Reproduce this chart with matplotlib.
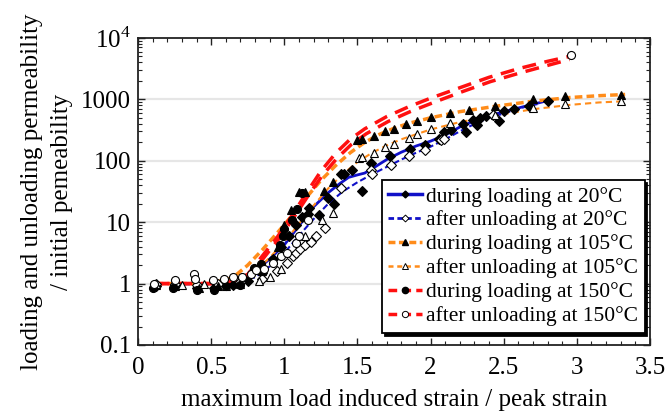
import matplotlib
matplotlib.use("Agg")
import matplotlib.pyplot as plt
from matplotlib.ticker import FixedLocator, FixedFormatter, LogLocator, MultipleLocator, NullFormatter
from matplotlib.lines import Line2D
import numpy as np

plt.rcParams['font.family'] = ['Liberation Serif', 'DejaVu Serif']
plt.rcParams['mathtext.fontset'] = 'custom'
plt.rcParams['mathtext.rm'] = 'Liberation Serif'

# ---------------- data ----------------
# 20 C, during loading (black diamonds)
x20L = [0.12, 0.25, 0.40, 0.52, 0.65, 0.75, 0.85, 0.92, 0.98, 1.03, 1.08, 1.12, 1.17, 1.16, 1.24,
        1.30, 1.34, 1.39, 1.41, 1.46, 1.53, 1.59, 1.72, 1.86, 1.96, 2.06, 2.09, 2.14, 2.22, 2.24,
        2.29, 2.32, 2.34, 2.38, 2.47, 2.50, 2.57, 2.67, 2.80]
y20L = [0.9, 0.95, 0.85, 0.85, 0.95, 1.1, 1.5, 2.5, 4.0, 6.0, 9.0, 12, 17, 13.5, 13,
        25, 20, 60, 62, 72, 32, 93, 120, 155, 180, 230, 295, 320, 390, 295,
        470, 380, 500, 540, 450, 650, 690, 780, 950]
# 20 C, after unloading (white diamonds)
x20U = [0.12, 0.25, 0.40, 0.55, 0.70, 0.85, 0.95, 1.02, 1.06, 1.08, 1.11, 1.14, 1.18, 1.22, 1.28,
        1.39, 1.59, 1.60, 1.73, 1.85, 1.96, 2.07, 2.09, 2.43]
y20U = [1.0, 1.0, 0.95, 1.0, 1.05, 1.2, 1.6, 2.2, 2.8, 3.1, 3.7, 4.2, 4.8, 6.0, 8.0,
        36, 72, 60, 85, 120, 150, 220, 225, 550]
# 105 C, during loading (black triangles)
x105L = [0.12, 0.25, 0.42, 0.55, 0.70, 0.85, 0.955, 1.00, 1.045, 1.10, 1.14, 1.27, 1.33, 1.50,
         1.53, 1.61, 1.69, 1.75, 1.83, 1.91, 2.00, 2.13, 2.26, 2.44, 2.70, 2.92, 3.30]
y105L = [0.95, 0.9, 0.85, 0.9, 1.0, 1.6, 4.0, 9.0, 15.5, 31, 31, 32, 45, 220,
         230, 250, 300, 330, 400, 450, 510, 600, 680, 780, 1020, 1120, 1200]
# 105 C, after unloading (white triangles)
x105U = [0.12, 0.30, 0.45, 0.60, 0.83, 0.90, 0.98, 1.14, 1.26, 1.33, 1.51, 1.53, 1.61, 1.69,
         1.75, 1.85, 1.91, 2.00, 2.13, 2.44, 2.70, 2.92, 3.30]
y105U = [1.0, 0.95, 1.0, 0.9, 1.1, 1.3, 1.7, 6.0, 10.7, 14, 110, 115, 132, 166,
         186, 234, 270, 330, 410, 560, 720, 830, 930]
# 150 C, during loading (black circles)
x150L = [0.10, 0.24, 0.40, 0.52, 0.60, 0.70, 0.79, 0.84, 0.97, 0.99, 1.00, 1.056, 1.09, 1.12]
y150L = [0.85, 0.85, 0.8, 0.8, 0.9, 0.95, 1.8, 2.1, 4.3, 6.0, 7.8, 11, 16.6, 30]
# 150 C, after unloading (white circles)
x150U = [0.11, 0.25, 0.38, 0.39, 0.51, 0.59, 0.65, 0.71, 0.77, 0.81, 0.86, 0.92, 0.98, 1.02,
         1.08, 1.10, 1.16, 2.96]
y150U = [1.0, 1.15, 1.45, 1.2, 1.16, 1.2, 1.28, 1.28, 1.45, 1.64, 1.75, 2.2, 2.8, 3.2,
         4.5, 6.0, 11, 5300]

# fitted curves (x, and log10 of the permeability ratio)
cx20L = [0.12, 0.50, 0.70, 0.80, 0.90, 1.00, 1.10, 1.20, 1.30, 1.38, 1.44, 1.50, 1.55, 1.62,
         1.70, 1.80, 1.90, 2.00, 2.10, 2.20, 2.30, 2.40, 2.50, 2.60, 2.70, 2.80]
clog20L = [0.0, 0.0, 0.02, 0.20, 0.40, 0.63, 0.94, 1.25, 1.48, 1.63, 1.73, 1.77, 1.80, 1.90,
           2.02, 2.14, 2.24, 2.32, 2.42, 2.55, 2.65, 2.73, 2.80, 2.86, 2.92, 2.98]
cx20U = [0.12, 0.50, 0.80, 0.90, 1.00, 1.10, 1.20, 1.30, 1.40, 1.50, 1.60, 1.70, 1.80, 1.90,
         2.00, 2.10, 2.20, 2.30, 2.40, 2.50, 2.60, 2.70, 2.75]
clog20U = [0.0, -0.02, 0.10, 0.28, 0.50, 0.78, 1.05, 1.30, 1.50, 1.65, 1.78, 1.90, 2.02, 2.13,
           2.23, 2.35, 2.48, 2.60, 2.70, 2.77, 2.85, 2.91, 2.93]
cx105L = [0.12, 0.50, 0.65, 0.75, 0.85, 0.95, 1.05, 1.15, 1.25, 1.35, 1.45, 1.55, 1.65, 1.75,
          1.85, 2.00, 2.20, 2.45, 2.70, 2.95, 3.15, 3.33]
clog105L = [0.0, 0.0, 0.10, 0.30, 0.55, 0.82, 1.10, 1.40, 1.68, 1.92, 2.13, 2.30, 2.43, 2.53,
            2.61, 2.70, 2.80, 2.89, 2.97, 3.03, 3.06, 3.08]
cx105U = [0.12, 0.50, 0.70, 0.80, 0.90, 1.00, 1.10, 1.20, 1.30, 1.40, 1.50, 1.60, 1.70, 1.80,
          1.90, 2.00, 2.20, 2.45, 2.70, 2.95, 3.15, 3.33]
clog105U = [0.0, 0.0, 0.05, 0.20, 0.42, 0.68, 0.97, 1.27, 1.55, 1.78, 1.98, 2.13, 2.25, 2.35,
            2.43, 2.51, 2.63, 2.74, 2.84, 2.91, 2.95, 2.97]
cx150L = [0.12, 0.50, 0.65, 0.75, 0.85, 0.95, 1.05, 1.15, 1.25, 1.35, 1.45, 1.55, 1.70, 1.85,
          2.00, 2.20, 2.40, 2.60, 2.80, 2.95]
clog150L = [0.0, 0.0, 0.04, 0.15, 0.45, 0.75, 1.10, 1.47, 1.83, 2.12, 2.35, 2.52, 2.72, 2.88,
            3.02, 3.19, 3.36, 3.50, 3.62, 3.70]
cx150U = [0.12, 0.50, 0.66, 0.76, 0.86, 0.96, 1.06, 1.16, 1.26, 1.36, 1.46, 1.56, 1.71, 1.86,
          2.01, 2.21, 2.41, 2.61, 2.81, 2.95]
clog150U = [0.0, 0.0, 0.03, 0.13, 0.42, 0.72, 1.06, 1.42, 1.76, 2.04, 2.27, 2.44, 2.64, 2.80,
            2.94, 3.12, 3.29, 3.43, 3.56, 3.65]

labels = ["during loading at 20°C", "after unloading at 20°C",
          "during loading at 105°C", "after unloading at 105°C",
          "during loading at 150°C", "after unloading at 150°C"]
yticks = [0.1, 1, 10, 100, 1000, 10000]
yticklabels = ["0.1", "1", "10", "100", "1000", "10$^4$"]
xticks = [0, 0.5, 1, 1.5, 2, 2.5, 3, 3.5]
xticklabels = ["0", "0.5", "1", "1.5", "2", "2.5", "3", "3.5"]

# ---------------- figure ----------------
fig = plt.figure(figsize=(6.66, 4.17), dpi=100)
ax = fig.add_axes([0.2072, 0.1727, 0.7688, 0.7362])

blue = '#1010c8'
orange = '#ff8c1a'
red = '#ff1010'
ms = 5.5

def p(v):
    return np.power(10.0, np.asarray(v))

# curves
ax.plot(cx20L, p(clog20L), color=blue, lw=2.0, ls='-', zorder=3)
ax.plot(cx20U, p(clog20U), color=blue, lw=1.5, ls=(0, (3, 1.5)), zorder=3)
ax.plot(cx105L, p(clog105L), color=orange, lw=2.5, ls=(0, (2.2, 1.2)), zorder=3)
ax.plot(cx105U, p(clog105U), color=orange, lw=1.5, ls=(0, (3, 2)), zorder=3)
ax.plot(cx150L, p(clog150L), color=red, lw=2.5, ls=(0, (4, 2.5)), zorder=3)
ax.plot(cx150U, p(clog150U), color=red, lw=2.5, ls=(0, (4, 2.5)), zorder=3)

# markers
kw = dict(ls='none', mec='black', mew=0.8, zorder=4)
ax.plot(x20L, y20L, marker='D', ms=ms * 0.85, mfc='black', **kw)
ax.plot(x20U, y20U, marker='D', ms=ms * 0.85, mfc='white', **kw)
ax.plot(x105L, y105L, marker='^', ms=ms * 1.1, mfc='black', **kw)
ax.plot(x105U, y105U, marker='^', ms=ms * 1.1, mfc='white', **kw)
ax.plot(x150L, y150L, marker='o', ms=ms * 1.05, mfc='black', **kw)
ax.plot(x150U, y150U, marker='o', ms=ms * 1.05, mfc='white', **kw)

ax.set_yscale('log')
ax.set_xlim(0, 3.5)
ax.set_ylim(0.1, 1e4)

ax.yaxis.set_major_locator(FixedLocator(yticks))
ax.yaxis.set_major_formatter(FixedFormatter(yticklabels))
ax.yaxis.set_minor_locator(LogLocator(base=10, subs=np.arange(2, 10)))
ax.yaxis.set_minor_formatter(NullFormatter())
ax.xaxis.set_major_locator(FixedLocator(xticks))
ax.xaxis.set_major_formatter(FixedFormatter(xticklabels))
ax.xaxis.set_minor_locator(MultipleLocator(0.1))

for g in [1, 10, 100, 1000]:
    ax.axhline(g, color='#e6e6e6', lw=1.6, zorder=1)

ax.tick_params(which='both', direction='in', top=True, right=True, color='#222222')
ax.tick_params(axis='x', which='major', length=5, width=1.0, labelsize=18, pad=9)
ax.tick_params(axis='y', which='major', length=5, width=1.0, labelsize=18, pad=5)
ax.tick_params(which='minor', length=3, width=0.8)
for s in ax.spines.values():
    s.set_linewidth(1.3)
    s.set_color('#222222')

ax.set_xlabel("maximum load induced strain / peak strain", fontsize=18, labelpad=7)
ax.set_ylabel("loading and unloading permeability\n/ initial pemeability", fontsize=18,
              labelpad=6, linespacing=1.45)

# legend handles
hs = [
    Line2D([], [], color=blue, lw=2.5, ls='-', marker='D', ms=3.5, mfc='black', mec='black'),
    Line2D([], [], color=blue, lw=2.0, ls=(0, (2, 1.2)), marker='D', ms=3.5, mfc='white', mec='black', mew=0.7),
    Line2D([], [], color=orange, lw=2.5, ls=(0, (2, 1)), marker='^', ms=4.2, mfc='black', mec='black'),
    Line2D([], [], color=orange, lw=1.8, ls=(0, (2, 1.5)), marker='^', ms=4.2, mfc='white', mec='black', mew=0.7),
    Line2D([], [], color=red, lw=2.5, ls=(0, (2.5, 1.5)), marker='o', ms=4.5, mfc='black', mec='black'),
    Line2D([], [], color=red, lw=2.5, ls=(0, (2.5, 1.5)), marker='o', ms=4.5, mfc='white', mec='black', mew=0.7),
]
leg = fig.legend(hs, labels, loc='upper left', bbox_to_anchor=(0.5736, 0.5683),
                 bbox_transform=fig.transFigure, fontsize=15.5, frameon=True, fancybox=False,
                 shadow={'color': 'black', 'alpha': 1.0}, edgecolor='black', framealpha=1,
                 handlelength=1.55, handletextpad=0.2, borderpad=0.3, labelspacing=0.18,
                 borderaxespad=0)
leg.get_frame().set_linewidth(1.3)

fig.savefig("out.png", dpi=100)
